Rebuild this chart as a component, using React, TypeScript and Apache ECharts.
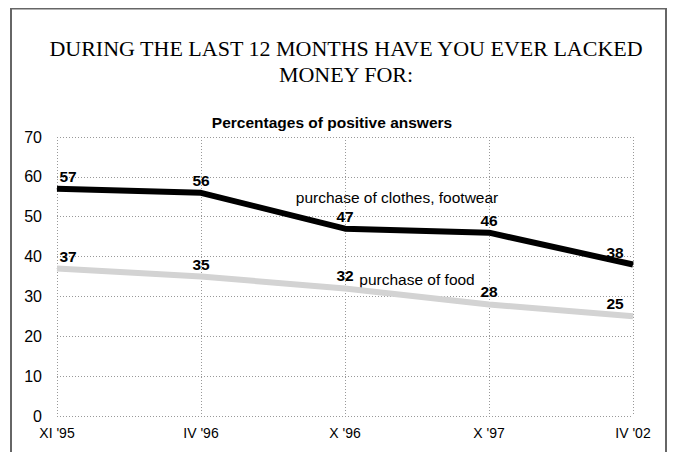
import React, { useEffect, useRef } from "react";
import * as echarts from "echarts";

const categories = ["XI '95", "IV '96", "X '96", "X '97", "IV '02"];
const clothes = [57, 56, 47, 46, 38];
const food = [37, 35, 32, 28, 25];
const clothesName = "purchase of clothes, footwear";
const foodName = "purchase of food";
const titleLines = ["DURING THE LAST 12 MONTHS HAVE YOU EVER LACKED", "MONEY FOR:"];
const subtitle = "Percentages of positive answers";

const SANS = "Liberation Sans, Arial, sans-serif";
const SERIF = "Liberation Serif, Times New Roman, serif";

function labelled(values: number[]) {
  const n = values.length;
  return values.map((v, i) => ({
    value: v,
    label: {
      offset: i === 0 ? [11, 0] : i === n - 1 ? [-18, 0] : [0, 0],
    },
  }));
}

const valueLabel = {
  show: true,
  position: "top",
  distance: 4,
  fontFamily: SANS,
  fontSize: 15.5,
  fontWeight: "bold",
  color: "#000",
};

export default function App() {
  const ref = useRef<HTMLDivElement>(null);
  useEffect(() => {
    if (!ref.current) return;
    const chart = echarts.init(ref.current, null, { renderer: "svg" });
    chart.setOption({
      animation: false,
      backgroundColor: "#fff",
      grid: { left: 49, right: 34, top: 129, bottom: 36, containLabel: false },
      xAxis: {
        type: "category",
        data: categories,
        boundaryGap: false,
        axisLine: { show: false },
        axisTick: { show: false },
        axisLabel: { fontFamily: SANS, fontSize: 14, color: "#000", margin: 10 },
        splitLine: { show: true, lineStyle: { type: [1, 2], color: "#999", width: 1 } },
      },
      yAxis: {
        type: "value",
        min: 0,
        max: 70,
        interval: 10,
        axisLine: { show: false },
        axisTick: { show: false },
        axisLabel: { fontFamily: SANS, fontSize: 16, color: "#000", margin: 15 },
        splitLine: { show: true, lineStyle: { type: [1, 2], color: "#999", width: 1 } },
      },
      series: [
        {
          type: "line",
          name: clothesName,
          data: labelled(clothes),
          showSymbol: true,
          symbol: "circle",
          symbolSize: 1,
          itemStyle: { color: "#000" },
          lineStyle: { color: "#000", width: 6 },
          label: valueLabel,
          z: 3,
        },
        {
          type: "line",
          name: foodName,
          data: labelled(food),
          showSymbol: true,
          symbol: "circle",
          symbolSize: 1,
          itemStyle: { color: "#d3d3d3" },
          lineStyle: { color: "#d3d3d3", width: 6 },
          label: valueLabel,
          z: 2,
        },
      ],
      graphic: [
        {
          type: "rect",
          shape: { x: 3, y: 0.5, width: 655, height: 520 },
          style: { fill: "none", stroke: "#666", lineWidth: 2 },
          silent: true,
          z: 10,
        },
        {
          type: "text",
          x: 338,
          y: 40,
          style: {
            text: titleLines[0],
            fontFamily: SERIF,
            fontSize: 22,
            fill: "#000",
            align: "center",
            verticalAlign: "middle",
          },
        },
        {
          type: "text",
          x: 338,
          y: 66,
          style: {
            text: titleLines[1],
            fontFamily: SERIF,
            fontSize: 22,
            fill: "#000",
            align: "center",
            verticalAlign: "middle",
          },
        },
        {
          type: "text",
          x: 324,
          y: 114,
          style: {
            text: subtitle,
            fontFamily: SANS,
            fontSize: 15.5,
            fontWeight: "bold",
            fill: "#000",
            align: "center",
            verticalAlign: "middle",
          },
        },
        {
          type: "text",
          x: 389,
          y: 189,
          style: {
            text: clothesName,
            fontFamily: SANS,
            fontSize: 15.5,
            fill: "#000",
            align: "center",
            verticalAlign: "middle",
          },
        },
        {
          type: "text",
          x: 409,
          y: 271,
          style: {
            text: foodName,
            fontFamily: SANS,
            fontSize: 15.5,
            fill: "#000",
            align: "center",
            verticalAlign: "middle",
          },
        },
      ],
    });
    return () => chart.dispose();
  }, []);
  return <div ref={ref} style={{ width: 659, height: 444 }} />;
}
